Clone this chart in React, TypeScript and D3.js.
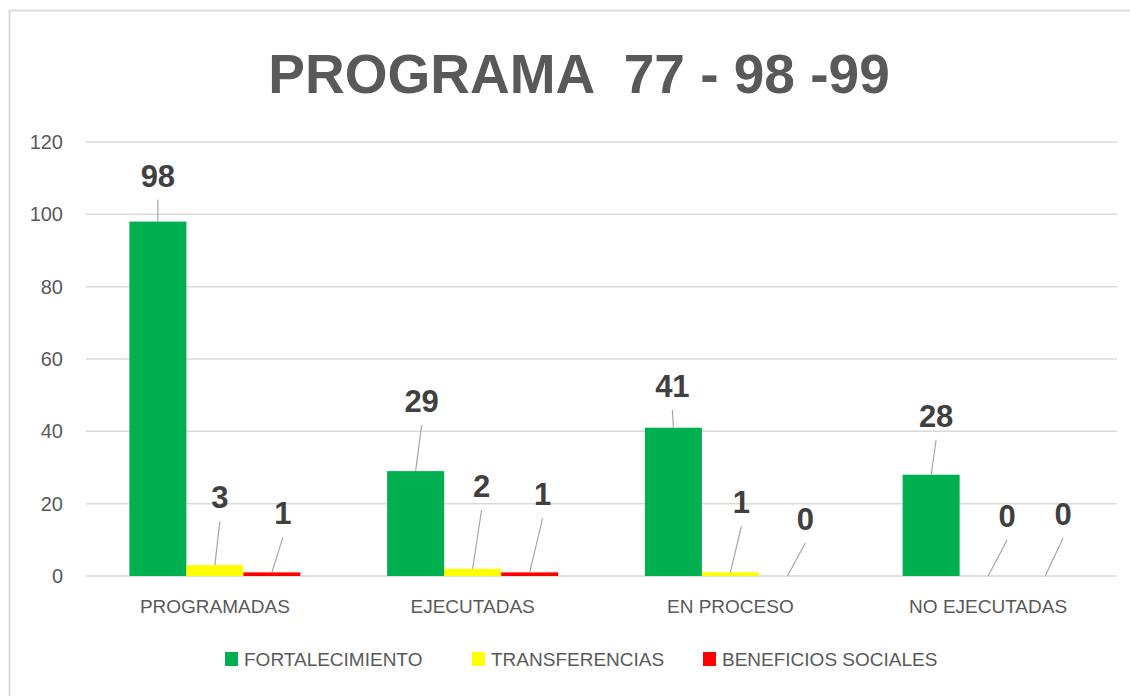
import * as d3 from "d3";

const categories = ["PROGRAMADAS", "EJECUTADAS", "EN PROCESO", "NO EJECUTADAS"];
const seriesNames = ["FORTALECIMIENTO", "TRANSFERENCIAS", "BENEFICIOS SOCIALES"];
const fortalecimiento = [98, 29, 41, 28];
const transferencias = [3, 2, 1, 0];
const beneficiosSociales = [1, 1, 0, 0];
const yTicks = [0, 20, 40, 60, 80, 100, 120];

// hand placed data labels (offset from top centre of each bar), as in the source chart
const greenOffsets: [number, number][] = [[0, -35], [6, -59], [-1, -31], [5, -48]];
const yellowOffsets: [number, number][] = [[5, -57], [9, -72], [11, -59], [19, -49]];
const redOffsets: [number, number][] = [[11, -48], [13, -67], [18, -46], [18, -51]];

const colors = ["#00B050", "#FFFF00", "#FF0000"];
const width = 1130;
const height = 696;
const margin = { top: 142, right: 13, bottom: 120, left: 86 };
const font = "'Liberation Sans', Arial, sans-serif";

export default function App() {
  const series = [fortalecimiento, transferencias, beneficiosSociales];
  const offsets = [greenOffsets, yellowOffsets, redOffsets];

  const x0 = d3
    .scaleBand<string>()
    .domain(categories)
    .range([margin.left, width - margin.right])
    .paddingInner(0.3366)
    .paddingOuter(0.1683);

  const x1 = d3
    .scaleBand<string>()
    .domain(seriesNames)
    .range([0, x0.bandwidth()]);

  const y = d3
    .scaleLinear()
    .domain([0, 120])
    .range([height - margin.bottom, margin.top]);

  const legendX = [225, 472, 703];

  return (
    <svg
      width={width}
      height={height}
      style={{ position: "fixed", left: 0, top: 0, background: "#fff" }}
    >
      <rect x={0} y={0} width={width} height={height} fill="#fff" />
      <path d={`M9.5,${height} V10.5 H${width}`} fill="none" stroke="#d9d9d9" strokeWidth={2} />

      <text
        x={579}
        y={93}
        textAnchor="middle"
        fontFamily={font}
        fontWeight="bold"
        fontSize={55}
        fill="#595959"
        style={{ whiteSpace: "pre" }}
      >
        {"PROGRAMA  77 - 98 -99"}
      </text>

      {yTicks.map((t) => (
        <g key={t}>
          <line
            x1={margin.left}
            x2={width - margin.right}
            y1={y(t)}
            y2={y(t)}
            stroke="#d9d9d9"
            strokeWidth={1.5}
          />
          <text
            x={63}
            y={y(t) + 7}
            textAnchor="end"
            fontFamily={font}
            fontSize={20}
            fill="#595959"
          >
            {t}
          </text>
        </g>
      ))}

      {categories.map((c) => (
        <text
          key={c}
          x={(x0(c) ?? 0) + x0.bandwidth() / 2}
          y={613}
          textAnchor="middle"
          fontFamily={font}
          fontSize={19}
          fill="#595959"
        >
          {c}
        </text>
      ))}

      {series.map((vals, si) =>
        vals.map((v, ci) => {
          const bx = (x0(categories[ci]) ?? 0) + (x1(seriesNames[si]) ?? 0);
          return (
            <rect
              key={`b${si}-${ci}`}
              x={bx}
              y={y(v)}
              width={x1.bandwidth()}
              height={y(0) - y(v)}
              fill={colors[si]}
            />
          );
        })
      )}

      {series.map((vals, si) =>
        vals.map((v, ci) => {
          const cx = (x0(categories[ci]) ?? 0) + (x1(seriesNames[si]) ?? 0) + x1.bandwidth() / 2;
          const top = y(v);
          const [dx, dy] = offsets[si][ci];
          const lx = cx + dx;
          const ly = top + dy;
          return (
            <g key={`l${si}-${ci}`}>
              <line x1={lx} y1={ly + 13} x2={cx} y2={top} stroke="#a6a6a6" strokeWidth={1.2} />
              <text
                x={lx}
                y={ly}
                textAnchor="middle"
                fontFamily={font}
                fontWeight="bold"
                fontSize={31}
                fill="#404040"
              >
                {v}
              </text>
            </g>
          );
        })
      )}

      {seriesNames.map((s, i) => (
        <g key={s}>
          <rect x={legendX[i]} y={652} width={13} height={14} fill={colors[i]} />
          <text x={legendX[i] + 19} y={666} fontFamily={font} fontSize={19} fill="#595959">
            {s}
          </text>
        </g>
      ))}
    </svg>
  );
}
